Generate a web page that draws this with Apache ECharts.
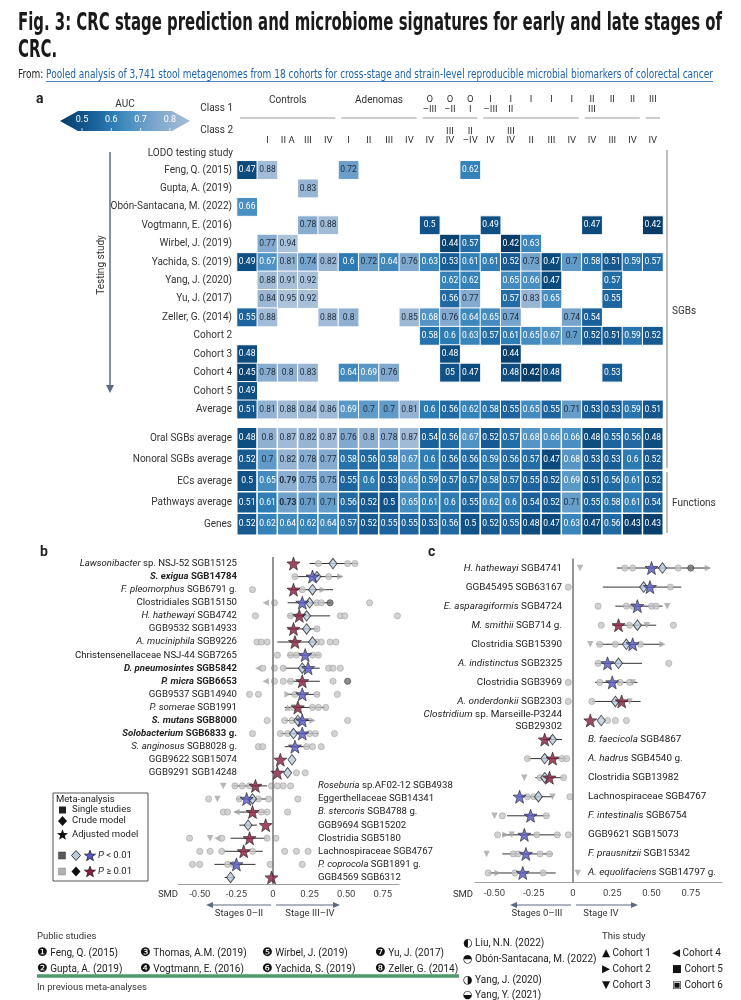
<!DOCTYPE html>
<html><head><meta charset="utf-8">
<script src="https://cdn.jsdelivr.net/npm/echarts@6/dist/echarts.min.js"></script>
<style>html,body{margin:0;padding:0;background:#fff}#c{width:741px;height:1000px}</style>
</head><body><div id="c"></div>
<script>
// ---------------- DATA ----------------
const _ = null;
const class2Labels = ['', 'I', 'II A', 'III', 'IV', 'I', 'II', 'III', 'IV', 'IV', 'III\nIV', 'II\n–IV', 'IV', 'III\nIV', 'II', 'III', 'IV', 'IV', 'III', 'IV', 'IV'];
const class1Labels = ['', '', '', '', '', '', '', '', '', 'O\n–III', 'O\n–II', 'O\nI', 'I\n–III', 'I\nII', 'I', 'I', 'I', 'II\nIII', 'II', 'II', 'III'];
const class1Groups = [['Controls', 1, 5], ['Adenomas', 6, 9], ['', 10, 12], ['', 13, 17], ['', 18, 20], ['', 21, 21]];
const studyRowLabels = ['Feng, Q. (2015)', 'Gupta, A. (2019)', 'Obón-Santacana, M. (2022)', 'Vogtmann, E. (2016)', 'Wirbel, J. (2019)', 'Yachida, S. (2019)', 'Yang, J. (2020)', 'Yu, J. (2017)', 'Zeller, G. (2014)', 'Cohort 2', 'Cohort 3', 'Cohort 4', 'Cohort 5', 'Average'];
const aucStudies = [
  [0.47,0.88,_,_,_,0.72,_,_,_,_,_,0.62,_,_,_,_,_,_,_,_,_],
  [_,_,_,0.83,_,_,_,_,_,_,_,_,_,_,_,_,_,_,_,_,_],
  [0.66,_,_,_,_,_,_,_,_,_,_,_,_,_,_,_,_,_,_,_,_],
  [_,_,_,0.78,0.88,_,_,_,_,0.5,_,_,0.49,_,_,_,_,0.47,_,_,0.42],
  [_,0.77,0.94,_,_,_,_,_,_,_,0.44,0.57,_,0.42,0.63,_,_,_,_,_,_],
  [0.49,0.67,0.81,0.74,0.82,0.6,0.72,0.64,0.76,0.63,0.53,0.61,0.61,0.52,0.73,0.47,0.7,0.58,0.51,0.59,0.57],
  [_,0.88,0.91,0.92,_,_,_,_,_,_,0.62,0.62,_,0.65,0.66,0.47,_,_,0.57,_,_],
  [_,0.84,0.95,0.92,_,_,_,_,_,_,0.56,0.77,_,0.57,0.83,0.65,_,_,0.55,_,_],
  [0.55,0.88,_,_,0.88,0.8,_,_,0.85,0.68,0.76,0.64,0.65,0.74,_,_,0.74,0.54,_,_,_],
  [_,_,_,_,_,_,_,_,_,0.58,0.6,0.63,0.57,0.61,0.65,0.67,0.7,0.52,0.51,0.59,0.52],
  [0.48,_,_,_,_,_,_,_,_,_,0.48,_,_,0.44,_,_,_,_,_,_,_],
  [0.45,0.78,0.8,0.83,_,0.64,0.69,0.76,_,_,0.5,0.47,_,0.48,0.42,0.48,_,_,0.53,_,_],
  [0.49,_,_,_,_,_,_,_,_,_,_,_,_,_,_,_,_,_,_,_,_],
  [0.51,0.81,0.88,0.84,0.86,0.69,0.7,0.7,0.81,0.6,0.56,0.62,0.58,0.55,0.65,0.55,0.71,0.53,0.53,0.59,0.51]
];
// cell texts printed differently in the source figure: [row, col, text]
const studyLabelOverrides = [[11, 10, '05']];
const summaryRowLabels = ['Oral SGBs average', 'Nonoral SGBs average', 'ECs average', 'Pathways average', 'Genes'];
const aucSummaries = [
  [0.48,0.8,0.87,0.82,0.87,0.76,0.8,0.78,0.87,0.54,0.56,0.67,0.52,0.57,0.68,0.66,0.66,0.48,0.55,0.56,0.48],
  [0.52,0.7,0.82,0.78,0.77,0.58,0.56,0.58,0.67,0.6,0.56,0.56,0.59,0.56,0.57,0.47,0.68,0.53,0.53,0.6,0.52],
  [0.5,0.65,0.79,0.75,0.75,0.55,0.6,0.53,0.65,0.59,0.57,0.57,0.58,0.57,0.55,0.52,0.69,0.51,0.56,0.61,0.52],
  [0.51,0.61,0.73,0.71,0.71,0.56,0.52,0.5,0.65,0.61,0.6,0.55,0.62,0.6,0.54,0.52,0.71,0.55,0.58,0.61,0.54],
  [0.52,0.62,0.64,0.62,0.64,0.57,0.52,0.55,0.55,0.53,0.56,0.5,0.52,0.55,0.48,0.47,0.63,0.47,0.56,0.43,0.43]
];
const boldSummaryCells = [[2, 2], [3, 2]];
const aucTicks = [0.5, 0.6, 0.7, 0.8];

// panel b
const bLabels = ['{i|Lawsonibacter} sp. NSJ-52 SGB15125', '{bi|S. exigua} {b|SGB14784}', '{i|F. pleomorphus} SGB6791 g.', 'Clostridiales SGB15150', '{i|H. hathewayi} SGB4742', 'GGB9532 SGB14933', '{i|A. muciniphila} SGB9226', 'Christensenellaceae NSJ-44 SGB7265', '{bi|D. pneumosintes} {b|SGB5842}', '{bi|P. micra} {b|SGB6653}', 'GGB9537 SGB14940', '{i|P. somerae} SGB1991', '{bi|S. mutans} {b|SGB8000}', '{bi|Solobacterium} {b|SGB6833 g.}', '{i|S. anginosus} SGB8028 g.', 'GGB9622 SGB15074', 'GGB9291 SGB14248', '{i|Roseburia} sp.AF02-12 SGB4938', 'Eggerthellaceae SGB14341', '{i|B. stercoris} SGB4788 g.', 'GGB9694 SGB15202', 'Clostridia SGB5180', 'Lachnospiraceae SGB4767', '{i|P. coprocola} SGB1891 g.', 'GGB4569 SGB6312'];
const bAdjusted = [0.14,0.27,0.14,0.20,0.18,0.14,0.15,0.22,0.24,0.20,0.20,0.17,0.20,0.20,0.15,0.05,0.03,-0.12,-0.18,-0.14,-0.05,-0.16,-0.20,-0.25,-0.01];
const bAdjSig = [0,1,0,1,0,0,0,1,1,0,1,0,1,1,1,0,0,0,1,0,0,0,0,1,0];
const bCrude = [0.41,0.30,0.27,0.25,0.23,0.23,0.27,_,0.20,_,_,_,0.17,0.14,_,0.13,0.10,_,-0.14,_,-0.17,_,_,_,-0.29];
const bCILow = [0.25,0.14,0.12,0.10,0.10,0.10,0.03,0.10,0.07,0.10,0.10,0.08,0.08,0.05,0.08,_,_,-0.27,-0.25,-0.26,-0.23,-0.29,-0.34,-0.40,-0.33];
const bCIHigh = [0.58,0.47,0.41,0.40,0.39,0.31,0.32,0.32,0.32,0.32,0.32,0.36,0.27,0.31,0.25,_,_,-0.04,-0.04,-0.04,-0.11,-0.04,-0.07,-0.12,-0.26];
const bStudies = [
  [[0.31,'c'],[0.51,'c'],[0.56,'c']],
  [[0.15,'c'],[0.38,'c'],[0.46,'r']],
  [[-0.14,'c'],[0.20,'c'],[0.34,'r']],
  [[-0.05,'l'],[0.01,'c'],[0.30,'c'],[0.33,'c'],[0.39,'k'],[0.66,'c']],
  [[-0.12,'c'],[0.12,'c'],[0.15,'l'],[0.46,'c'],[0.49,'c'],[0.85,'c']],
  [[0.30,'c']],
  [[-0.11,'c'],[-0.08,'c'],[-0.04,'c'],[0.30,'c'],[0.33,'c'],[0.39,'c'],[0.43,'c']],
  [[0.03,'c'],[0.12,'c'],[0.16,'c'],[0.27,'c'],[0.31,'c']],
  [[-0.10,'l'],[-0.07,'c'],[0.01,'c'],[0.07,'c'],[0.38,'c'],[0.41,'c'],[0.46,'c']],
  [[-0.05,'l'],[0.01,'c'],[0.07,'c'],[0.12,'c'],[0.41,'c'],[0.51,'k']],
  [[-0.16,'c'],[-0.10,'c'],[0.10,'r'],[0.15,'c'],[0.30,'c'],[0.44,'c']],
  [[0.10,'u'],[0.14,'c'],[0.27,'c'],[0.31,'c'],[0.36,'c']],
  [[-0.04,'c'],[0.08,'c'],[0.13,'c'],[0.27,'r'],[0.51,'c']],
  [[-0.14,'c'],[0.05,'c'],[0.10,'c'],[0.25,'c'],[0.29,'c'],[0.42,'c']],
  [[-0.10,'c'],[-0.07,'c'],[0.23,'c'],[0.27,'c'],[0.33,'c']],
  [],
  [[0.16,'c'],[0.22,'c']],
  [[-0.34,'d'],[-0.26,'c'],[-0.21,'c'],[-0.16,'c'],[-0.01,'c'],[0.03,'c'],[0.07,'c'],[0.12,'c']],
  [[-0.44,'c'],[-0.38,'d'],[-0.23,'c'],[-0.10,'c'],[-0.03,'c'],[0.17,'c']],
  [[-0.34,'c'],[-0.31,'c'],[-0.25,'l'],[-0.08,'c'],[-0.04,'c'],[0.10,'c']],
  [],
  [[-0.57,'c'],[-0.43,'d'],[-0.38,'l'],[-0.35,'c'],[-0.04,'c'],[0.02,'c']],
  [[-0.50,'c'],[-0.43,'c'],[-0.35,'c'],[-0.14,'c'],[0.08,'c'],[0.16,'c'],[0.24,'c']],
  [[-0.55,'c'],[-0.50,'c'],[-0.31,'c'],[-0.27,'c'],[-0.02,'c'],[0.20,'c']],
  []
];

// panel c
const cLabels = ['{i|H. hathewayi} SGB4741', 'GGB45495 SGB63167', '{i|E. asparagiformis} SGB4724', '{i|M. smithii} SGB714 g.', 'Clostridia SGB15390', '{i|A. indistinctus} SGB2325', 'Clostridia SGB3969', '{i|A. onderdonkii} SGB2303', '{i|Clostridium} sp. Marseille-P3244\nSGB29302', '{i|B. faecicola} SGB4867', '{i|A. hadrus} SGB4540 g.', 'Clostridia SGB13982', 'Lachnospiraceae SGB4767', '{i|F. intestinalis} SGB6754', 'GGB9621 SGB15073', '{i|F. prausnitzii} SGB15342', '{i|A. equolifaciens} SGB14797 g.'];
const cAdjusted = [0.50,0.49,0.41,0.29,0.38,0.22,0.25,0.31,0.11,-0.18,-0.13,-0.15,-0.34,-0.27,-0.31,-0.30,-0.32];
const cAdjSig = [1,1,1,0,1,1,1,0,0,0,0,0,1,1,1,1,1];
const cCrude = [0.57,0.45,_,0.41,0.34,0.29,_,0.27,0.18,-0.13,-0.18,-0.18,-0.22,_,_,_,_];
const cCILow = [0.28,0.19,0.27,0.25,0.15,0.14,0.14,0.12,_,-0.19,-0.29,-0.24,-0.35,-0.42,-0.45,-0.45,-0.54];
const cCIHigh = [0.87,0.69,0.57,0.53,0.57,0.44,0.41,0.43,_,-0.07,-0.04,-0.06,-0.13,-0.15,-0.08,-0.13,-0.11];
const cStudies = [
  [[0.045,'d'],[0.33,'c'],[0.38,'c'],[0.67,'c'],[0.75,'k'],[0.86,'r']],
  [[-0.03,'c'],[0.62,'c']],
  [[0.16,'c'],[0.34,'c'],[0.38,'c'],[0.50,'c'],[0.53,'c'],[0.60,'d']],
  [[0.18,'c'],[0.36,'c'],[0.47,'d'],[0.64,'c']],
  [[0.11,'d'],[0.17,'c'],[0.27,'c'],[0.43,'c'],[0.57,'r']],
  [[0.16,'c'],[0.61,'c']],
  [[-0.03,'c'],[0.17,'c'],[0.30,'c'],[0.36,'c'],[0.38,'d']],
  [[-0.03,'c'],[0.12,'c'],[0.36,'d']],
  [[0.22,'c'],[0.27,'c'],[0.34,'c']],
  [],
  [[-0.29,'c'],[-0.07,'c'],[-0.04,'c']],
  [[-0.31,'d'],[-0.21,'c'],[-0.06,'c']],
  [[-0.29,'c'],[-0.25,'c'],[-0.13,'d'],[-0.02,'c']],
  [[-0.50,'d'],[-0.45,'c'],[-0.17,'c']],
  [[-0.48,'c'],[-0.43,'r'],[-0.39,'d'],[-0.23,'c'],[-0.10,'c'],[-0.03,'c']],
  [[-0.55,'d'],[-0.38,'c'],[-0.35,'c'],[-0.21,'c'],[-0.15,'c']],
  [[-0.54,'c'],[-0.48,'r'],[-0.37,'c'],[-0.19,'c'],[0.03,'d']]
];
const smdTicks = [-0.5, -0.25, 0, 0.25, 0.5, 0.75];

const publicStudiesCol = [[['❶', 'Feng, Q. (2015)'], ['❷', 'Gupta, A. (2019)']], [['❸', 'Thomas, A.M. (2019)'], ['❹', 'Vogtmann, E. (2016)']], [['❺', 'Wirbel, J. (2019)'], ['❻', 'Yachida, S. (2019)']], [['❼', 'Yu, J. (2017)'], ['❽', 'Zeller, G. (2014)']]];
const otherStudies = [['◐', 'Liu, N.N. (2022)'], ['◓', 'Obón-Santacana, M. (2022)'], ['◑', 'Yang, J. (2020)'], ['◒', 'Yang, Y. (2021)']];
const cohortLegend = [[['▲', 'Cohort 1'], ['▶', 'Cohort 2'], ['▼', 'Cohort 3']], [['◀', 'Cohort 4'], ['■', 'Cohort 5'], ['▣', 'Cohort 6']]];

// ---------------- STYLE / LAYOUT ----------------
const FONT = 'Roboto, "Noto Sans", "DejaVu Sans", sans-serif';
const GFONT = '"DejaVu Sans", sans-serif';
const TFONT = '"Liberation Sans Narrow", "DejaVu Sans Condensed", "Roboto Condensed", Roboto, sans-serif';
const HM_MIN = 0.40, HM_MAX = 0.96;
const HM_COLORS = ['#073660','#0b4a7b','#1a609a','#2f7fb6','#5495c5','#7da7ce','#97b4d3','#a4bdd8','#aec4dc'];
const HM_LEFT = 237, HM_W = 426, NCOL = 21, CW = HM_W / NCOL;
const G1 = {left: HM_LEFT, top: 160.8, width: HM_W, height: 257.9};
const G2 = {left: HM_LEFT, top: 427.5, width: HM_W, height: 107.5};
const GB = {left: 178, top: 557, width: 221, height: 327, min: -0.649, max: 0.861, labelRight: 237, labelLeftR: 318};
const GC = {left: 475, top: 558.5, width: 247, height: 324, min: -0.624, max: 0.949, labelRight: 562, labelLeftR: 588};
const BLUE = '#5658c6', MAROON = '#8a1d3d', DIAM = '#b9cbdd', ARROW = '#5c6b80';

function hex2rgb(h){ return [parseInt(h.slice(1,3),16), parseInt(h.slice(3,5),16), parseInt(h.slice(5,7),16)]; }
function colorAt(v){
  let t = (v - HM_MIN) / (HM_MAX - HM_MIN) * (HM_COLORS.length - 1);
  t = Math.max(0, Math.min(HM_COLORS.length - 1, t));
  const i = Math.min(Math.floor(t), HM_COLORS.length - 2), f = t - i;
  const a = hex2rgb(HM_COLORS[i]), b = hex2rgb(HM_COLORS[i+1]);
  return 'rgb(' + a.map((x,k)=>Math.round(x + (b[k]-x)*f)).join(',') + ')';
}
function starPts(cx, cy, R, r){
  const p = [];
  for (let i = 0; i < 10; i++){ const a = -Math.PI/2 + i*Math.PI/5, d = i%2 ? r : R; p.push([cx + d*Math.cos(a), cy + d*Math.sin(a)]); }
  return p;
}
const STAR = 'path://' + starPts(0,0,10,4.1).map((p,i)=>(i?'L':'M')+p[0].toFixed(2)+','+p[1].toFixed(2)).join('') + 'Z';

function heatData(rows, boldCells, overrides){
  const out = [];
  rows.forEach((row, r) => row.forEach((v, c) => {
    if (v == null) return;
    const bold = (boldCells || []).some(b => b[0] === r && b[1] === c);
    const ov = (overrides || []).find(o => o[0] === r && o[1] === c);
    out.push({value: [c, r, v], name: ov ? ov[2] : String(v),
      label: {color: v >= 0.7 ? '#1d2c3c' : '#ffffff', fontWeight: bold ? 'bold' : 'normal'}});
  }));
  return out;
}

// wrap every untagged fragment into an explicit {n|...} token so all parts share one style base
function fullyTag(s){
  const re = /\{(\w+)\|([^}]*)\}/g;
  let out = '', last = 0, m;
  while ((m = re.exec(s))){
    if (m.index > last) out += '{n|' + s.slice(last, m.index) + '}';
    out += m[0]; last = re.lastIndex;
  }
  if (last < s.length) out += '{n|' + s.slice(last) + '}';
  return out;
}
function richFor(size){
  const base = {fontSize: size, color: '#222', fontFamily: FONT, lineHeight: size + 2};
  return {
    n: Object.assign({}, base),
    i: Object.assign({}, base, {fontStyle: 'italic'}),
    b: Object.assign({}, base, {fontWeight: 'bold'}),
    bi: Object.assign({}, base, {fontWeight: 'bold', fontStyle: 'italic'})
  };
}

function forestAxes(gi, G, labels, adj, size){
  const yBase = {gridIndex: gi, type: 'category', data: labels, inverse: true,
    axisLine: {show: false}, axisTick: {show: false}, splitLine: {show: false}};
  return [
    Object.assign({}, yBase, {position: 'left', offset: -(G.labelRight + 4 - G.left),
      axisLabel: {interval: 0, margin: 4, fontSize: size, fontFamily: FONT, color: '#222', rich: richFor(size),
        formatter: (v, i) => adj[i] >= 0 ? fullyTag(v) : ''}}),
    Object.assign({}, yBase, {position: 'right', offset: (G.labelLeftR - 4) - (G.left + G.width),
      axisLabel: {interval: 0, margin: 4, fontSize: size, fontFamily: FONT, color: '#222', align: 'left', rich: richFor(size),
        formatter: (v, i) => adj[i] < 0 ? fullyTag(v) : ''}})
  ];
}

function forestSeries(xi, yi, adj, sig, crude, lo, hi, studies){
  const triRot = {u: 0, d: 180, l: 90, r: -90};
  const sData = [];
  studies.forEach((arr, i) => arr.forEach(([v, t]) => {
    const tri = t in triRot;
    sData.push({value: [v, i], symbol: tri ? 'triangle' : 'circle', symbolRotate: tri ? triRot[t] : 0,
      symbolSize: tri ? 6.5 : 6.2,
      itemStyle: tri ? {color: '#a5a5a5'} : {color: t === 'k' ? '#707070' : '#c8c8c8', borderColor: t === 'k' ? '#333' : '#9c9c9c', borderWidth: 0.7}});
  }));
  const ci = [];
  lo.forEach((l, i) => { if (l != null) ci.push([l, hi[i], i]); });
  const cr = [];
  crude.forEach((v, i) => { if (v != null) cr.push([v, i]); });
  return [
    {type: 'custom', xAxisIndex: xi, yAxisIndex: yi, data: ci, encode: {x: [0, 1], y: 2}, silent: true, z: 2,
      renderItem: (p, api) => {
        const a = api.coord([api.value(0), api.value(2)]), b = api.coord([api.value(1), api.value(2)]);
        return {type: 'line', shape: {x1: a[0], y1: a[1], x2: b[0], y2: b[1]}, style: {stroke: '#333', lineWidth: 1}};
      }},
    {type: 'scatter', xAxisIndex: xi, yAxisIndex: yi, data: sData, z: 3, silent: true},
    {type: 'scatter', xAxisIndex: xi, yAxisIndex: yi, data: cr, z: 4, silent: true, symbol: 'diamond', symbolSize: [8, 10.5],
      itemStyle: {color: DIAM, borderColor: '#222', borderWidth: 0.9}},
    {type: 'scatter', xAxisIndex: xi, yAxisIndex: yi, z: 5, silent: true, symbol: STAR, symbolSize: 13,
      data: adj.map((v, i) => ({value: [v, i], itemStyle: {color: sig[i] ? BLUE : MAROON, borderColor: '#111', borderWidth: 0.7}})),
      markLine: {silent: true, symbol: 'none', label: {show: false}, animation: false,
        lineStyle: {color: '#7a7a7a', width: 1.6, type: 'solid'}, data: [{xAxis: 0}]}}
  ];
}
function forestX(gi, G){
  return {gridIndex: gi, type: 'value', min: G.min, max: G.max,
    axisLine: {show: true, lineStyle: {color: '#a0a0a0', width: 1}}, axisTick: {show: false}, splitLine: {show: false},
    axisLabel: {customValues: smdTicks, fontSize: 9.5, fontFamily: FONT, color: '#444', margin: 6, formatter: v => v === 0 ? '0' : v.toFixed(2)}};
}

// ---------------- GRAPHICS helpers ----------------
const G = [];
function txt(x, y, text, o){
  o = o || {};
  G.push({type: 'text', x: x, y: y, rotation: o.rot || 0, scaleX: o.sx || 1, z: 10, silent: true,
    style: {text: text, fontSize: o.size || 10, fontFamily: o.font || FONT, fontWeight: o.weight || 'normal', fontStyle: o.style || 'normal',
      fill: o.color || '#222', align: o.align || 'left', verticalAlign: o.va || 'middle', rich: o.rich}});
}
function glyphTxt(x, y, glyph, label, gsize){
  txt(x, y, '{g|' + glyph + '}{t| ' + label + '}', {size: 10, rich: {
    g: {fontSize: gsize || 11.5, fontFamily: GFONT, fill: '#111'},
    t: {fontSize: 10, fontFamily: FONT, fill: '#222'}}});
}
function ln(x1, y1, x2, y2, stroke, w){
  G.push({type: 'line', silent: true, z: 10, shape: {x1, y1, x2, y2}, style: {stroke: stroke, lineWidth: w || 1}});
}
function poly(points, fill, stroke, w){
  G.push({type: 'polygon', silent: true, z: 10, shape: {points: points}, style: {fill: fill, stroke: stroke || null, lineWidth: w || 0}});
}
function arrow(x1, x2, y, col){
  const dir = x2 > x1 ? 1 : -1;
  ln(x1, y, x2 - dir * 5, y, col, 1.2);
  poly([[x2, y], [x2 - dir * 7, y - 3], [x2 - dir * 7, y + 3]], col);
}
function measure(text, font){
  const ctx = document.createElement('canvas').getContext('2d');
  ctx.font = font; return ctx.measureText(text).width;
}

// Title
const t1 = 'Fig. 3: CRC stage prediction and microbiome signatures for early and late stages of';
const tw = measure(t1, 'bold 24px ' + TFONT);
const ts = 704 / tw;
txt(18, 24, t1, {size: 24, weight: 'bold', font: TFONT, sx: ts, color: '#1a1a1a'});
txt(18, 51, 'CRC.', {size: 24, weight: 'bold', font: TFONT, sx: ts, color: '#1a1a1a'});
const s0 = 'From: ', s1 = 'Pooled analysis of 3,741 stool metagenomes from 18 cohorts for cross-stage and strain-level reproducible microbial biomarkers of colorectal cancer';
const w0 = measure(s0, '12px ' + TFONT), w1 = measure(s1, '12px ' + TFONT);
const ss = 695 / (w0 + w1);
txt(18, 75, s0, {size: 12, font: TFONT, sx: ss, color: '#222'});
txt(18 + w0 * ss, 75, s1, {size: 12, font: TFONT, sx: ss, color: '#1f63a8'});
ln(18 + w0 * ss, 81.5, 18 + (w0 + w1) * ss, 81.5, '#1f63a8', 0.8);

// Panel a decorations
txt(36, 99, 'a', {size: 14, weight: 'bold'});
txt(125, 104, 'AUC', {size: 10, align: 'center', color: '#333'});
(function(){
  const stops = [];
  for (let k = 0; k <= 10; k++){ const x = 60 + 13 * k; stops.push({offset: k / 10, color: colorAt(0.5 + (x - 82) / 293)}); }
  G.push({type: 'polygon', silent: true, z: 9, shape: {points: [[60,121],[78,111],[172,111],[190,121],[172,131],[78,131]]},
    style: {fill: new echarts.graphic.LinearGradient(0, 0, 1, 0, stops)}});
  aucTicks.forEach(v => {
    const x = 82 + (v - 0.5) * 293;
    txt(x, 120, String(v), {size: 9, align: 'center', color: '#fff'});
    ln(x, 128, x, 131, '#fff', 0.8);
  });
})();
txt(233, 108, 'Class 1', {size: 10, align: 'right', color: '#333'});
txt(233, 130, 'Class 2', {size: 10, align: 'right', color: '#333'});
txt(233, 153, 'LODO testing study', {size: 10, align: 'right', color: '#333'});
class1Groups.forEach(([name, a, b]) => {
  const x1 = HM_LEFT + (a - 1) * CW + 3, x2 = HM_LEFT + b * CW - 3;
  ln(x1, 118, x2, 118, '#9a9a9a', 1);
  if (name) txt((x1 + x2) / 2, 100, name, {size: 10, align: 'center', color: '#333'});
});
ln(110, 152, 110, 386, ARROW, 1.5);
poly([[106, 385], [114, 385], [110, 393]], ARROW);
txt(101, 265, 'Testing study', {size: 10, align: 'center', rot: Math.PI / 2, color: '#333'});
ln(667, 150, 667, 468, '#a8a8a8', 1.5);
ln(667, 472, 667, 533, '#a8a8a8', 1.5);
txt(672, 311, 'SGBs', {size: 10, color: '#333'});
txt(672, 503, 'Functions', {size: 10, color: '#333'});

// Panel b/c decorations
txt(40, 552, 'b', {size: 14, weight: 'bold'});
txt(428, 552, 'c', {size: 14, weight: 'bold'});
txt(168, 895, 'SMD', {size: 9.5, align: 'center', color: '#333'});
txt(463, 895, 'SMD', {size: 9.5, align: 'center', color: '#333'});
arrow(271, 206, 905, ARROW); arrow(276, 340, 905, ARROW);
arrow(571, 510, 905, ARROW); arrow(576, 638, 905, ARROW);
txt(239, 914, 'Stages 0–II', {size: 9.5, align: 'center', color: '#333'});
txt(310, 914, 'Stage III–IV', {size: 9.5, align: 'center', color: '#333'});
txt(537, 914, 'Stages 0–III', {size: 9.5, align: 'center', color: '#333'});
txt(601, 914, 'Stage IV', {size: 9.5, align: 'center', color: '#333'});

// Meta-analysis legend box
G.push({type: 'rect', silent: true, z: 9, shape: {x: 53, y: 793, width: 95, height: 88}, style: {fill: '#fff', stroke: '#555', lineWidth: 1}});
txt(56, 800, 'Meta-analysis', {size: 9.5});
G.push({type: 'rect', silent: true, z: 10, shape: {x: 59, y: 806.5, width: 7, height: 7}, style: {fill: '#222'}});
txt(72, 810, 'Single studies', {size: 9.5});
poly([[62.5, 816], [67, 821], [62.5, 826], [58, 821]], '#111');
txt(72, 821, 'Crude model', {size: 9.5});
poly(starPts(62.5, 835, 5.8, 2.4), '#111');
txt(72, 835, 'Adjusted model', {size: 9.5});
G.push({type: 'rect', silent: true, z: 10, shape: {x: 58.5, y: 852, width: 7, height: 7}, style: {fill: '#5a5a5a', stroke: '#333', lineWidth: 0.5}});
poly([[76, 850.5], [80.5, 855.5], [76, 860.5], [71.5, 855.5]], DIAM, '#222', 0.9);
poly(starPts(90, 856, 5.8, 2.4), BLUE, '#111', 0.7);
txt(98, 856, '{i|P}{n| < 0.01}', {size: 9.5, rich: {i: {fontStyle: 'italic', fontSize: 9.5, fontFamily: FONT}, n: {fontSize: 9.5, fontFamily: FONT}}});
G.push({type: 'rect', silent: true, z: 10, shape: {x: 58.5, y: 868, width: 7, height: 7}, style: {fill: '#b0b0b0', stroke: '#888', lineWidth: 0.5}});
poly([[76, 866.5], [80.5, 871.5], [76, 876.5], [71.5, 871.5]], '#111');
poly(starPts(90, 872, 5.8, 2.4), MAROON, '#111', 0.7);
txt(98, 872, '{i|P}{n| ≥ 0.01}', {size: 9.5, rich: {i: {fontStyle: 'italic', fontSize: 9.5, fontFamily: FONT}, n: {fontSize: 9.5, fontFamily: FONT}}});

// Bottom legend
txt(37, 937, 'Public studies', {size: 9.5, color: '#333'});
const colX = [37, 140, 262, 375];
publicStudiesCol.forEach((pair, k) => { glyphTxt(colX[k], 953, pair[0][0], pair[0][1], 12); glyphTxt(colX[k], 969, pair[1][0], pair[1][1], 12); });
ln(37, 976, 459, 976, '#4f9a6b', 3.5);
txt(37, 988, 'In previous meta-analyses', {size: 9.5, color: '#333'});
const osY = [943, 959, 980, 995];
otherStudies.forEach((s, k) => glyphTxt(463, osY[k], s[0], s[1], 11));
txt(602, 937, 'This study', {size: 9.5, color: '#333'});
cohortLegend.forEach((col, k) => col.forEach((s, j) => glyphTxt(k ? 672 : 602, 953 + j * 16, s[0], s[1], 10.5)));

// ---------------- OPTION ----------------
const hmXBase = {type: 'category', axisLine: {show: false}, axisTick: {show: false}, splitLine: {show: false}};
const option = {
  animation: false,
  backgroundColor: '#fff',
  textStyle: {fontFamily: FONT},
  visualMap: {type: 'continuous', show: false, min: HM_MIN, max: HM_MAX, seriesIndex: [0, 1], dimension: 2, inRange: {color: HM_COLORS}},
  grid: [
    {left: G1.left, top: G1.top, width: G1.width, height: G1.height},
    {left: G2.left, top: G2.top, width: G2.width, height: G2.height},
    {left: GB.left, top: GB.top, width: GB.width, height: GB.height},
    {left: GC.left, top: GC.top, width: GC.width, height: GC.height}
  ],
  xAxis: [
    Object.assign({}, hmXBase, {gridIndex: 0, data: class2Labels, position: 'top',
      axisLabel: {interval: 0, fontSize: 9.5, fontFamily: FONT, color: '#333', lineHeight: 9.5, margin: 15}}),
    Object.assign({}, hmXBase, {gridIndex: 0, data: class1Labels, position: 'top',
      axisLabel: {interval: 0, fontSize: 9.5, fontFamily: FONT, color: '#333', lineHeight: 10, margin: 66, verticalAlign: 'top'}}),
    Object.assign({}, hmXBase, {gridIndex: 1, data: class2Labels, axisLabel: {show: false}}),
    forestX(2, GB),
    forestX(3, GC)
  ],
  yAxis: [
    {gridIndex: 0, type: 'category', data: studyRowLabels, inverse: true, axisLine: {show: false}, axisTick: {show: false},
      axisLabel: {interval: 0, fontSize: 10, fontFamily: FONT, color: '#333', margin: 5}},
    {gridIndex: 1, type: 'category', data: summaryRowLabels, inverse: true, axisLine: {show: false}, axisTick: {show: false},
      axisLabel: {interval: 0, fontSize: 10, fontFamily: FONT, color: '#333', margin: 5}}
  ].concat(forestAxes(2, GB, bLabels, bAdjusted, 9.6), forestAxes(3, GC, cLabels, cAdjusted, 9.9)),
  series: [
    {type: 'heatmap', xAxisIndex: 0, yAxisIndex: 0, data: heatData(aucStudies, [], studyLabelOverrides), silent: true,
      itemStyle: {borderColor: '#fff', borderWidth: 1},
      label: {show: true, fontSize: 8.5, fontFamily: FONT, formatter: p => p.name}},
    {type: 'heatmap', xAxisIndex: 2, yAxisIndex: 1, data: heatData(aucSummaries, boldSummaryCells), silent: true,
      itemStyle: {borderColor: '#fff', borderWidth: 1.5},
      label: {show: true, fontSize: 8.5, fontFamily: FONT, formatter: p => p.name}}
  ].concat(
    forestSeries(3, 2, bAdjusted, bAdjSig, bCrude, bCILow, bCIHigh, bStudies),
    forestSeries(4, 4, cAdjusted, cAdjSig, cCrude, cCILow, cCIHigh, cStudies)
  ),
  graphic: {elements: G}
};
const chart = echarts.init(document.getElementById('c'));
chart.setOption(option);
</script>
</body></html>
